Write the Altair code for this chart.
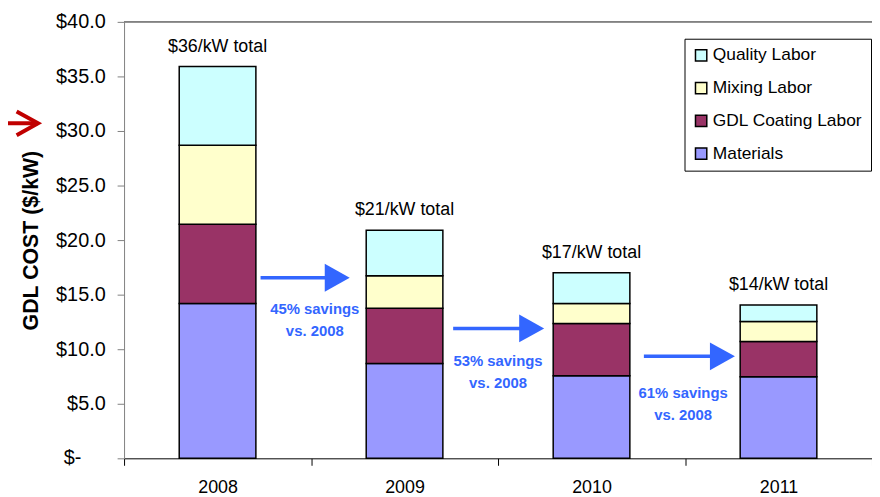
import altair as alt
import pandas as pd

# ---- data ----
years = ["2008", "2009", "2010", "2011"]
materials = [14.2, 8.7, 7.57, 7.48]
coating = [7.25, 5.05, 4.79, 3.22]
mixing = [7.25, 2.98, 1.82, 1.85]
quality = [7.2, 4.17, 2.82, 1.51]
total_labels = ["$36/kW total", "$21/kW total", "$17/kW total", "$14/kW total"]

series = ["Quality Labor", "Mixing Labor", "GDL Coating Labor", "Materials"]
colors = ["#CCFFFF", "#FFFFCC", "#993366", "#9999FF"]

# savings annotations (positions in band units along the x axis, y in $/kW)
savings_line1 = ["45% savings", "53% savings", "61% savings"]
savings_line2 = ["vs. 2008", "vs. 2008", "vs. 2008"]
arrow_start = [0.73, 1.76, 2.78]
arrow_head = [1.14, 2.18, 3.20]
arrow_y = [16.55, 11.9, 9.35]
label_x = [1.02, 2.0, 2.99]
label1_y = [13.65, 8.94, 5.97]
label2_y = [11.64, 6.88, 3.94]

# red pointer at the left
pointer_start = [-0.70]
pointer_tip = [-0.46]
pointer_y = [30.7]

# zero label of the y axis (Excel accounting style "$-")
zero_label = ["$-"]
zero_label_x = [-0.228]
zero_label_y = [0]

FONT = "Liberation Sans"
BLUE = "#3366FF"

rows = []
for i, yr in enumerate(years):
    for s, vals, o in [("Materials", materials, 0), ("GDL Coating Labor", coating, 1),
                       ("Mixing Labor", mixing, 2), ("Quality Labor", quality, 3)]:
        rows.append({"year": yr, "series": s, "cost": vals[i], "order": o})
df = pd.DataFrame(rows)

totals = pd.DataFrame({
    "year": years,
    "total": [materials[i] + coating[i] + mixing[i] + quality[i] for i in range(len(years))],
    "label": total_labels,
})

ann = pd.DataFrame({
    "x0": arrow_start, "x1": arrow_head, "ay": arrow_y,
    "lx": label_x, "l1y": label1_y, "l2y": label2_y,
    "t1": savings_line1, "t2": savings_line2,
})
ptr = pd.DataFrame({"x0": pointer_start, "x1": pointer_tip, "py": pointer_y})
zl = pd.DataFrame({"zx": zero_label_x, "zy": zero_label_y, "zt": zero_label})

yscale = alt.Scale(domain=[0, 40], nice=False, zero=True)
xband = alt.X(
    "year:N",
    scale=alt.Scale(paddingInner=0, paddingOuter=0),
    axis=alt.Axis(title=None, labelAngle=0, tickBand="extent", labelFontSize=18,
                  labelFont=FONT, labelColor="black", tickSize=7, tickColor="black",
                  domainColor="black", labelPadding=13, tickWidth=1, domainWidth=1),
)

bars = alt.Chart(df).mark_bar(
    width=alt.RelativeBandSize(0.41), stroke="black", strokeWidth=1.5
).encode(
    x=xband,
    y=alt.Y(
        "cost:Q", stack="zero", scale=yscale,
        axis=alt.Axis(
            title="GDL COST ($/kW)", values=list(range(0, 41, 5)),
            labelExpr="datum.value == 0 ? '' : '$' + format(datum.value, '.1f')",
            labelFontSize=20, labelFont=FONT, labelColor="black",
            tickSize=7, tickColor="#808080", domainColor="#808080",
            labelPadding=12, titleFont=FONT, titleFontSize=21.5, titleFontWeight="bold",
            titleColor="black", titlePadding=13, grid=False,
        ),
    ),
    color=alt.Color(
        "series:N",
        scale=alt.Scale(domain=series, range=colors),
        legend=alt.Legend(
            title=None, orient="none", legendX=565, legendY=17,
            labelFont=FONT, labelFontSize=17.5, labelColor="black",
            symbolType="square", symbolSize=130, symbolStrokeColor="black",
            symbolStrokeWidth=1.5, symbolOpacity=1, rowPadding=14, padding=8,
            strokeColor="black", fillColor="white", labelOffset=3,
        ),
    ),
    order=alt.Order("order:Q"),
)

top_line = alt.Chart(totals).mark_rule(color="#808080", strokeWidth=1).encode(
    y=alt.datum(40, scale=yscale)
)

total_text = alt.Chart(totals).mark_text(
    font=FONT, fontSize=18, color="black", baseline="middle", dy=-20
).encode(x=alt.X("year:N"), y=alt.Y("total:Q", scale=yscale), text="label:N")

xq = alt.Scale(domain=[0, 4], nice=False, zero=False)

arrow_lines = alt.Chart(ann).mark_rule(color=BLUE, strokeWidth=3.5).encode(
    x=alt.X("x0:Q", scale=xq, axis=None), x2="x1:Q", y=alt.Y("ay:Q", scale=yscale)
)
arrow_heads = alt.Chart(ann).mark_point(
    shape="M-0.9,-1L0.9,0L-0.9,1Z", filled=True, fill=BLUE, color=BLUE,
    size=784, opacity=1, strokeWidth=0
).encode(x=alt.X("x1:Q", scale=xq, axis=None), y=alt.Y("ay:Q", scale=yscale))

lab1 = alt.Chart(ann).mark_text(
    font=FONT, fontSize=15, fontWeight="bold", color=BLUE, baseline="middle"
).encode(x=alt.X("lx:Q", scale=xq, axis=None), y=alt.Y("l1y:Q", scale=yscale), text="t1:N")
lab2 = alt.Chart(ann).mark_text(
    font=FONT, fontSize=15, fontWeight="bold", color=BLUE, baseline="middle"
).encode(x=alt.X("lx:Q", scale=xq, axis=None), y=alt.Y("l2y:Q", scale=yscale), text="t2:N")

ptr_line = alt.Chart(ptr).mark_rule(color="#C00000", strokeWidth=4).encode(
    x=alt.X("x0:Q", scale=xq, axis=None), x2="x1:Q", y=alt.Y("py:Q", scale=yscale)
)
ptr_head = alt.Chart(ptr).mark_point(
    shape="M-1.8,-1L0,0L-1.8,1", filled=False, color="#C00000",
    size=576, opacity=1, strokeWidth=4
).encode(x=alt.X("x1:Q", scale=xq, axis=None), y=alt.Y("py:Q", scale=yscale))

zero_text = alt.Chart(zl).mark_text(
    font=FONT, fontSize=20, color="black", align="right", baseline="middle"
).encode(x=alt.X("zx:Q", scale=xq, axis=None), y=alt.Y("zy:Q", scale=yscale), text="zt:N")

band_layer = alt.layer(top_line, bars, total_text)
ann_layer = alt.layer(arrow_lines, arrow_heads, lab1, lab2, ptr_line, ptr_head, zero_text)

chart = alt.layer(band_layer, ann_layer).resolve_scale(x="independent").properties(
    width=754, height=440,
    autosize=alt.AutoSizeParams(type="none"),
    padding={"left": 117, "top": 12, "right": 0, "bottom": 36},
).configure_view(stroke=None)

chart.save("out.html", embed_options={"renderer": "svg", "actions": False})
